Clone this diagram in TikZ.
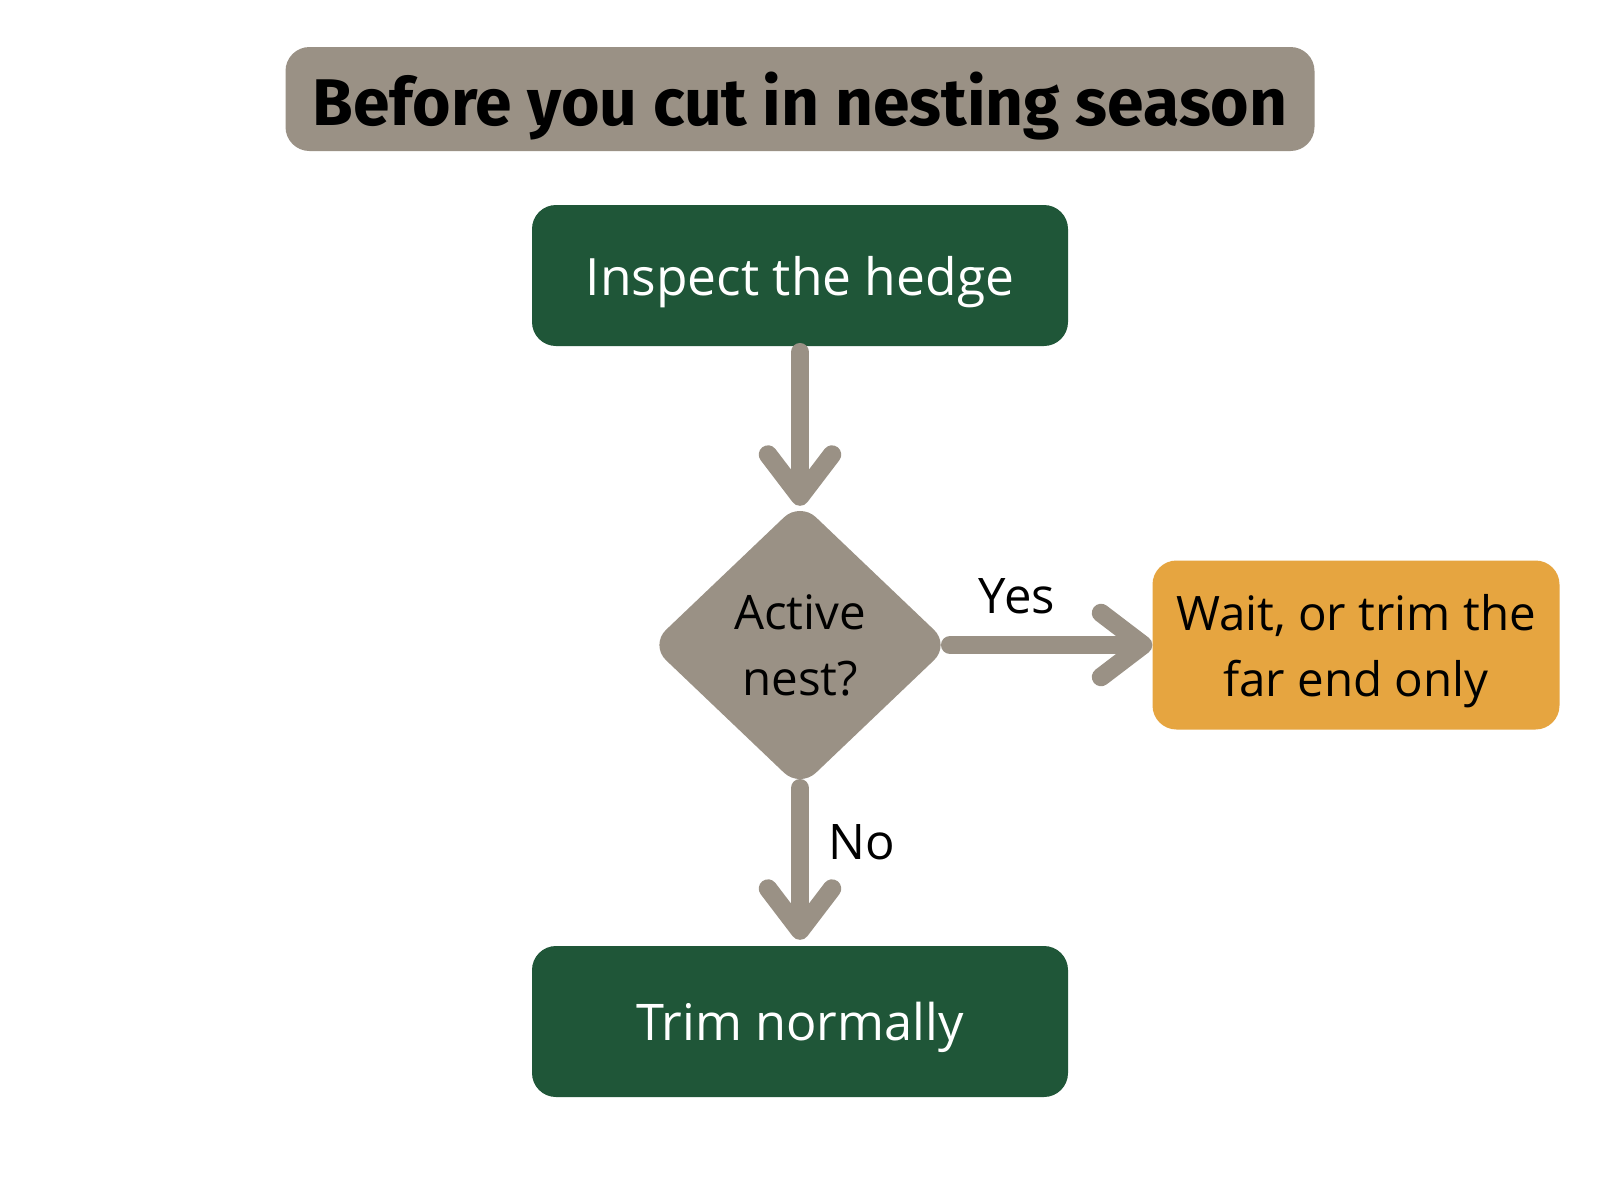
\documentclass[tikz,border=0pt]{standalone}
\usepackage{fontspec}
\setmainfont{Open Sans}
\newfontfamily\titlefont{Fira Sans}
\usetikzlibrary{shapes.geometric,arrows.meta}
\definecolor{hedgegreen}{HTML}{1F5638}
\definecolor{stonegray}{HTML}{9A9185}
\definecolor{amber}{HTML}{E6A540}
\begin{document}
\begin{tikzpicture}[x=1pt,y=-1pt,
  box/.style={rounded corners=24pt,inner sep=0pt,align=center,text depth=0pt},
  flow/.style={draw=stonegray,line width=18.5pt,line cap=round,
    -{Straight Barb[round,length=42pt,width=64pt]}},
  lbl/.style={font=\fontsize{49}{60}\selectfont}]
\fill[white] (0,0) rectangle (1600,1195);
\node[box,fill=stonegray,minimum width=1029pt,minimum height=104pt,
  font=\titlefont\bfseries\fontsize{66}{80}\selectfont] (title) at (800,99) {Before you cut in nesting season};
\node[box,fill=hedgegreen,text=white,minimum width=536pt,minimum height=141pt,
  font=\fontsize{51.5}{64}\selectfont] (insp) at (800,275.5) {Inspect the hedge};
\node[diamond,fill=stonegray,rounded corners=22pt,minimum width=300pt,minimum height=286pt,
  inner sep=0pt,align=center,text depth=0pt,font=\fontsize{47.5}{66}\selectfont] (nest) at (800,645) {Active\\nest?};
\node[box,fill=amber,minimum width=407pt,minimum height=169pt,
  font=\fontsize{47.5}{66}\selectfont] (wait) at (1356,645) {Wait, or trim the\\far end only};
\node[box,fill=hedgegreen,text=white,minimum width=536pt,minimum height=151pt,
  font=\fontsize{50.5}{64}\selectfont] (trim) at (800,1021.5) {Trim normally};
%arrows
\draw[flow,shorten <=6pt,shorten >=-4pt] (insp.south) -- (nest.north);
\draw[flow] (nest.east) -- (wait.west) node[lbl,pos=0.33,above=18pt]{Yes};
\draw[flow,shorten >=6pt] (nest.south) -- (trim.north) node[lbl,pos=0.34,right=16pt]{No};
\end{tikzpicture}
\end{document}
